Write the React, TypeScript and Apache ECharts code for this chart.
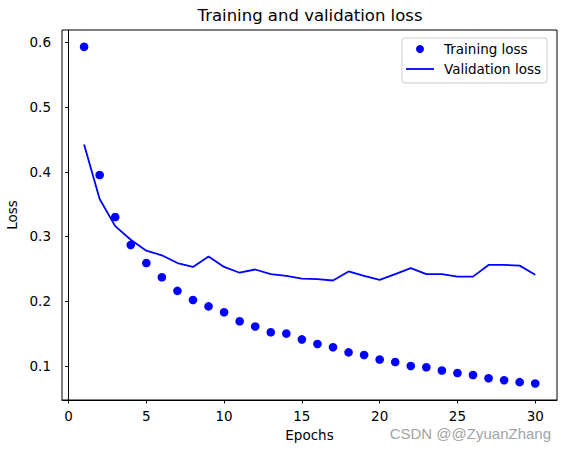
import React, { useEffect, useRef } from "react";
import * as echarts from "echarts";

const epochs = [1, 2, 3, 4, 5, 6, 7, 8, 9, 10, 11, 12, 13, 14, 15, 16, 17, 18, 19, 20, 21, 22, 23, 24, 25, 26, 27, 28, 29, 30];
const trainingLoss = [0.593, 0.395, 0.330, 0.287, 0.259, 0.237, 0.216, 0.202, 0.192, 0.183, 0.169, 0.161, 0.152, 0.150, 0.141, 0.134, 0.129, 0.121, 0.117, 0.110, 0.106, 0.100, 0.098, 0.093, 0.089, 0.086, 0.081, 0.078, 0.075, 0.073];
const validationLoss = [0.442, 0.358, 0.316, 0.295, 0.278, 0.271, 0.259, 0.253, 0.269, 0.253, 0.244, 0.249, 0.242, 0.239, 0.235, 0.234, 0.232, 0.246, 0.239, 0.233, 0.242, 0.251, 0.242, 0.242, 0.238, 0.238, 0.256, 0.256, 0.255, 0.241];
const xTicks = [0, 5, 10, 15, 20, 25, 30];
const yTicks = [0.1, 0.2, 0.3, 0.4, 0.5, 0.6];

const FONT = "DejaVu Sans";
const FS = 13.5;

export default function App() {
  const ref = useRef<HTMLDivElement>(null);
  useEffect(() => {
    if (!ref.current) return;
    const chart = echarts.init(ref.current, undefined, { renderer: "svg" });
    chart.setOption({
      animation: false,
      backgroundColor: "#ffffff",
      title: {
        text: "Training and validation loss",
        left: 310,
        top: 7,
        padding: 0,
        textAlign: "center",
        textStyle: { fontFamily: FONT, fontSize: 16.5, fontWeight: "normal", color: "#000" },
      },
      grid: {
        left: 62,
        right: 10,
        top: 30,
        bottom: 53,
        containLabel: false,
        outerBoundsMode: "none",
        show: true,
        borderColor: "#000",
        borderWidth: 1,
      },
      legend: {
        orient: "vertical",
        left: 402,
        top: 38,
        padding: [3, 6, 6, 4],
        itemWidth: 28,
        itemHeight: 8,
        itemGap: 4,
        borderColor: "#cccccc",
        borderWidth: 1,
        borderRadius: 3,
        backgroundColor: "rgba(255,255,255,0.8)",
        textStyle: { fontFamily: FONT, fontSize: FS, color: "#000", lineHeight: 16, padding: [0, 0, 0, 5] },
        data: [
          { name: "Training loss", icon: "circle" },
          { name: "Validation loss", icon: "path://M0,0L28,0L28,1.8L0,1.8Z" },
        ],
      },
      xAxis: {
        type: "value",
        min: -0.42,
        max: 31.4,
        name: "Epochs",
        nameLocation: "middle",
        nameGap: 28,
        nameTextStyle: { fontFamily: FONT, fontSize: FS, color: "#000" },
        splitLine: { show: false },
        axisLine: { show: true, lineStyle: { color: "#000", width: 1 } },
        axisTick: { show: true, length: 3.5, lineStyle: { color: "#000" }, customValues: xTicks },
        axisLabel: { fontFamily: FONT, fontSize: FS, color: "#000", margin: 9, customValues: xTicks },
      },
      yAxis: {
        type: "value",
        min: 0.0474,
        max: 0.619,
        name: "Loss",
        nameLocation: "middle",
        nameGap: 37,
        nameTextStyle: { fontFamily: FONT, fontSize: FS, color: "#000" },
        splitLine: { show: false },
        axisLine: { show: true, lineStyle: { color: "#000", width: 1 } },
        axisTick: { show: true, length: 3.5, lineStyle: { color: "#000" }, customValues: yTicks },
        axisLabel: {
          fontFamily: FONT,
          fontSize: FS,
          color: "#000",
          margin: 11,
          customValues: yTicks,
          formatter: (v: number) => v.toFixed(1),
        },
      },
      series: [
        {
          name: "Training loss",
          type: "scatter",
          symbol: "circle",
          symbolSize: 8.6,
          itemStyle: { color: "#0000ff", opacity: 1 },
          data: epochs.map((e, i) => [e, trainingLoss[i]]),
        },
        {
          name: "Validation loss",
          type: "line",
          symbol: "none",
          showSymbol: false,
          lineStyle: { color: "#0000ff", width: 1.8 },
          itemStyle: { color: "#0000ff" },
          data: epochs.map((e, i) => [e, validationLoss[i]]),
        },
      ],
      graphic: [
        {
          type: "text",
          right: 16,
          top: 426,
          style: {
            text: "CSDN @@ZyuanZhang",
            fontFamily: "Liberation Sans",
            fontSize: 15,
            fill: "#a3a3a3",
          },
        },
      ],
    });
    return () => chart.dispose();
  }, []);
  return <div ref={ref} style={{ width: 567, height: 453, position: "fixed", left: 0, top: 0 }} />;
}
